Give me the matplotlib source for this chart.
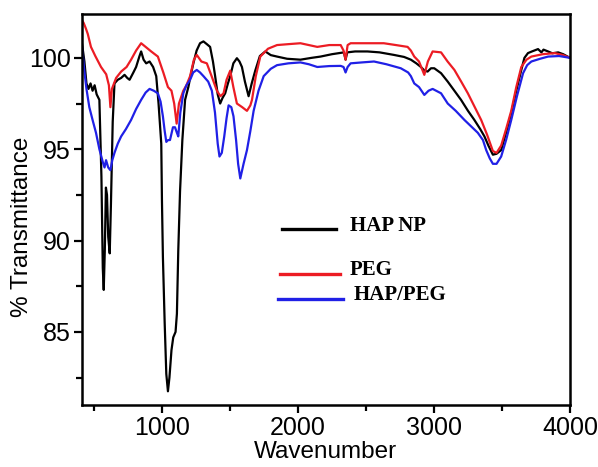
import numpy as np
import matplotlib.pyplot as plt
from matplotlib.ticker import MultipleLocator

# FTIR spectra (wavenumber, % transmittance)
hap_x = [410, 430, 445, 460, 475, 490, 505, 520, 540, 555, 565, 572, 580, 588, 596, 605,
         616, 625, 638, 651, 675, 700, 725, 745, 762, 790, 810, 835, 847, 865, 884, 909,
         935, 958, 975, 995, 1000, 1007, 1020, 1032, 1044, 1055, 1070, 1083, 1100, 1110,
         1120, 1133, 1150, 1170, 1194, 1210, 1231, 1255, 1280, 1305, 1330, 1354, 1375,
         1391, 1410, 1428, 1445, 1465, 1485, 1502, 1525, 1551, 1570, 1588, 1610, 1637,
         1660, 1686, 1720, 1760, 1800, 1846, 1920, 2018, 2100, 2166, 2250, 2338, 2350,
         2362, 2420, 2511, 2600, 2706, 2780, 2830, 2870, 2904, 2930, 2953, 2978, 3002,
         3052, 3101, 3150, 3199, 3250, 3297, 3340, 3371, 3400, 3433, 3460, 3494, 3530,
         3568, 3605, 3642, 3665, 3691, 3720, 3765, 3790, 3805, 3839, 3870, 3913, 3950, 4000]
hap_y = [100.9, 99.8, 98.6, 98.3, 98.6, 98.2, 98.5, 98.0, 97.7, 93.5, 88.5, 87.3, 89.5, 92.9,
         92.5, 90.2, 89.3, 92.0, 96.5, 98.6, 98.8, 98.9, 99.07, 98.9, 98.8, 99.2, 99.5,
         100.1, 100.35, 99.9, 99.7, 99.8, 99.5, 99.0, 97.5, 95.3, 92.2, 89.1, 85.5, 82.7,
         81.75, 82.5, 84.0, 84.7, 85.0, 86.0, 89.45, 92.7, 95.5, 97.7, 98.4, 99.0, 99.7,
         100.4, 100.8, 100.9, 100.75, 100.6, 99.8, 99.0, 98.0, 97.5, 97.8, 98.06, 98.6,
         99.0, 99.7, 99.98, 99.8, 99.5, 98.7, 97.9, 98.6, 99.3, 100.1, 100.35, 100.15,
         100.07, 99.95, 99.9, 100.0, 100.07, 100.2, 100.3, 99.9, 100.3, 100.35, 100.35,
         100.3, 100.16, 100.05, 99.9, 99.7, 99.5, 99.3, 99.25, 99.43, 99.43, 99.16, 98.7,
         98.2, 97.7, 97.1, 96.6, 96.1, 95.7, 95.2, 94.7, 94.75, 94.95, 95.9, 96.96, 98.2,
         99.34, 100.0, 100.26, 100.35, 100.48, 100.3, 100.45, 100.35, 100.25, 100.3,
         100.2, 100.0]

peg_x = [410, 425, 441, 455, 478, 510, 552, 590, 610, 621, 632, 663, 700, 740, 773, 810,
         847, 880, 921, 970, 1010, 1044, 1070, 1090, 1108, 1125, 1157, 1180, 1207, 1235,
         1256, 1290, 1330, 1365, 1404, 1430, 1453, 1475, 1502, 1525, 1551, 1590, 1625,
         1650, 1662, 1690, 1723, 1780, 1846, 1930, 2018, 2080, 2142, 2230, 2314, 2335,
         2350, 2365, 2387, 2500, 2631, 2720, 2806, 2830, 2855, 2890, 2929, 2955, 2990,
         3052, 3100, 3150, 3200, 3249, 3300, 3347, 3390, 3433, 3460, 3494, 3530, 3568,
         3605, 3642, 3680, 3716, 3800, 3888, 3950, 4000]
peg_y = [102.1, 101.9, 101.6, 101.3, 100.6, 100.1, 99.5, 99.1, 98.5, 97.3, 98.3, 98.9,
         99.25, 99.5, 99.9, 100.4, 100.8, 100.6, 100.35, 100.07, 99.2, 98.4, 98.2, 97.5,
         96.4, 97.5, 98.2, 98.5, 99.0, 99.9, 100.16, 99.8, 99.7, 99.0, 98.2, 97.9, 98.06,
         98.8, 99.3, 98.4, 97.5, 97.3, 97.1, 97.4, 97.7, 99.0, 100.07, 100.5, 100.7,
         100.75, 100.8, 100.7, 100.6, 100.7, 100.7, 100.4, 99.9, 100.7, 100.8, 100.8,
         100.8, 100.7, 100.6, 100.4, 100.07, 99.8, 99.07, 99.8, 100.35, 100.3, 99.8, 99.34,
         98.7, 98.06, 97.3, 96.6, 95.8, 94.9, 94.8, 95.2, 96.1, 97.1, 98.4, 99.5, 99.9,
         100.07, 100.2, 100.26, 100.15, 100.0]

mix_x = [410, 429, 445, 466, 490, 515, 540, 565, 578, 589, 605, 621, 635, 651, 675, 700,
         735, 773, 810, 847, 880, 909, 940, 970, 990, 1007, 1020, 1032, 1045, 1059, 1081,
         1096, 1110, 1120, 1135, 1157, 1180, 1207, 1230, 1256, 1280, 1305, 1340, 1367,
         1390, 1410, 1423, 1440, 1458, 1475, 1490, 1510, 1526, 1545, 1560, 1576, 1600,
         1625, 1650, 1674, 1710, 1748, 1800, 1846, 1930, 2018, 2080, 2142, 2230, 2314,
         2335, 2350, 2365, 2387, 2470, 2559, 2650, 2756, 2810, 2830, 2855, 2890, 2929,
         2960, 2990, 3052, 3101, 3160, 3224, 3280, 3322, 3360, 3384, 3410, 3433, 3460,
         3494, 3530, 3568, 3610, 3655, 3685, 3716, 3780, 3839, 3920, 4000]
mix_y = [100.8, 99.3, 98.3, 97.3, 96.6, 95.9, 95.0, 94.3, 94.0, 94.4, 94.0, 93.85, 94.4,
         94.8, 95.3, 95.7, 96.1, 96.6, 97.2, 97.7, 98.1, 98.3, 98.2, 98.06, 97.6, 96.8,
         96.0, 95.4, 95.5, 95.5, 96.2, 96.2, 95.9, 95.7, 97.0, 98.06, 98.5, 98.8, 99.2,
         99.34, 99.2, 99.0, 98.7, 98.2, 97.0, 95.3, 94.6, 94.8, 95.7, 96.7, 97.4, 97.3,
         96.8, 95.5, 94.2, 93.4, 94.2, 94.95, 96.0, 97.1, 98.2, 99.0, 99.4, 99.6, 99.7,
         99.75, 99.65, 99.5, 99.55, 99.56, 99.5, 99.2, 99.5, 99.7, 99.75, 99.8, 99.65,
         99.43, 99.2, 99.0, 98.6, 98.4, 97.97, 98.2, 98.3, 98.06, 97.5, 97.1, 96.6, 96.2,
         95.9, 95.5, 94.95, 94.5, 94.2, 94.2, 94.6, 95.5, 96.6, 97.9, 99.16, 99.6, 99.8,
         99.95, 100.07, 100.1, 100.0]

labels = ["HAP NP", "PEG", "HAP/PEG"]
colors = ["black", "#ec1c24", "#2020e6"]

plt.rcParams['font.family'] = ['Liberation Sans', 'DejaVu Sans']

fig = plt.figure(figsize=(5.98, 4.67), dpi=100)
ax = fig.add_axes([81.7/598, 1-405/467, (570-81.7)/598, (405-14)/467])

ax.plot(hap_x, hap_y, color=colors[0], linewidth=1.6)
ax.plot(peg_x, peg_y, color=colors[1], linewidth=1.6)
ax.plot(mix_x, mix_y, color=colors[2], linewidth=1.6)

ax.set_xlim(410, 4000)
ax.set_ylim(81.0, 102.4)
ax.xaxis.set_major_locator(MultipleLocator(1000))
ax.xaxis.set_minor_locator(MultipleLocator(500))
ax.yaxis.set_major_locator(MultipleLocator(5))
ax.yaxis.set_minor_locator(MultipleLocator(2.5))
ax.tick_params(which='major', direction='out', length=6, width=1.6, labelsize=18, pad=2)
ax.tick_params(which='minor', direction='out', length=4, width=1.6)
for s in ax.spines.values():
    s.set_linewidth(1.8)

ax.set_xlabel("Wavenumber", fontsize=17.5, labelpad=1)
ax.set_ylabel("% Transmittance", fontsize=17.5)
ax.yaxis.set_label_coords(-0.1, 0.455)

# hand-made legend, entries unevenly spaced like the original
leg_y = [0.449, 0.335, 0.271]
leg_x0 = [0.411, 0.407, 0.402]
leg_x1 = [0.52, 0.53, 0.536]
leg_tx = [0.549, 0.549, 0.557]
for lab, col, yy, x0, x1, tx in zip(labels, colors, leg_y, leg_x0, leg_x1, leg_tx):
    ax.plot([x0, x1], [yy, yy], color=col, linewidth=2.4, transform=ax.transAxes)
    ax.text(tx, yy + 0.01, lab, transform=ax.transAxes, va='center', ha='left',
            fontsize=15, fontweight='bold', family=['Liberation Serif', 'DejaVu Serif'])

plt.savefig("out.png", dpi=100)
